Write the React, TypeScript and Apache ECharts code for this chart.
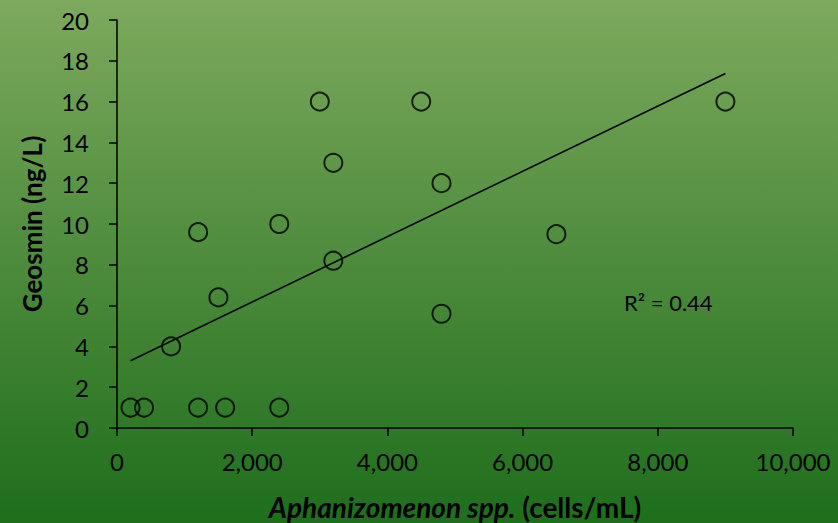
import React, { useEffect, useRef } from "react";
import * as echarts from "echarts";

const cells = [200, 400, 800, 1200, 1200, 1500, 1600, 2400, 2400, 3000, 3200, 3200, 4500, 4800, 4800, 6500, 9000];
const geosmin = [1, 1, 4, 9.6, 1, 6.4, 1, 10, 1, 16, 13, 8.2, 16, 12, 5.6, 9.5, 16];
const trendX = [200, 9000];
const trendY = [3.3, 17.38];
const r2Label = "R² = 0.44";

export default function App() {
  const ref = useRef<HTMLDivElement>(null);
  useEffect(() => {
    const chart = echarts.init(ref.current!, null, { renderer: "svg" });
    const font = "Lato";
    chart.setOption({
      animation: false,
      backgroundColor: {
        type: "linear",
        x: 0, y: 0, x2: 0, y2: 1,
        colorStops: [
          { offset: 0, color: "#7da95d" },
          { offset: 1, color: "#1e6e1c" },
        ],
      },
      grid: { left: 117, right: 45, top: 20, bottom: 95, outerBoundsMode: "none", containLabel: false },
      xAxis: {
        type: "value",
        min: 0,
        max: 10000,
        interval: 2000,
        axisLine: { show: true, lineStyle: { color: "#000", width: 1.5 } },
        axisTick: { show: true, inside: false, length: 8, lineStyle: { color: "#000", width: 1.5 } },
        splitLine: { show: false },
        axisLabel: {
          color: "#000",
          fontSize: 24,
          fontFamily: font,
          margin: 21,
          formatter: (v: number) => v.toLocaleString("en-US"),
        },
        name: "{i|Aphanizomenon spp.}{b| (cells/mL)}",
        nameLocation: "middle",
        nameGap: 65,
        nameTextStyle: {
          rich: {
            i: { fontStyle: "italic", fontWeight: "bold", fontSize: 28, color: "#000", fontFamily: font },
            b: { fontWeight: "bold", fontSize: 28, color: "#000", fontFamily: font },
          },
        },
      },
      yAxis: {
        type: "value",
        min: 0,
        max: 20,
        interval: 2,
        axisLine: { show: true, lineStyle: { color: "#000", width: 1.5 } },
        axisTick: { show: true, inside: false, length: 8, lineStyle: { color: "#000", width: 1.5 } },
        splitLine: { show: false },
        axisLabel: { color: "#000", fontSize: 24, fontFamily: font, margin: 28 },
        name: "Geosmin (ng/L)",
        nameLocation: "middle",
        nameGap: 72,
        nameTextStyle: { fontWeight: "bold", fontSize: 26, color: "#000", fontFamily: font },
      },
      graphic: [
        {
          type: "text",
          left: 624,
          top: 291,
          style: { text: r2Label, fontSize: 22, fill: "#000", fontFamily: font },
        },
      ],
      series: [
        {
          type: "line",
          data: trendX.map((x, i) => [x, trendY[i]]),
          symbol: "none",
          lineStyle: { color: "#000", width: 1.6 },
          silent: true,
          z: 1,
        },
        {
          type: "scatter",
          data: cells.map((x, i) => [x, geosmin[i]]),
          symbol: "circle",
          symbolSize: 18,
          itemStyle: { color: "transparent", borderColor: "#000", borderWidth: 2 },
          z: 2,
        },
      ],
    });
    return () => chart.dispose();
  }, []);
  return <div ref={ref} style={{ width: 838, height: 523, position: "absolute", left: 0, top: 0 }} />;
}
